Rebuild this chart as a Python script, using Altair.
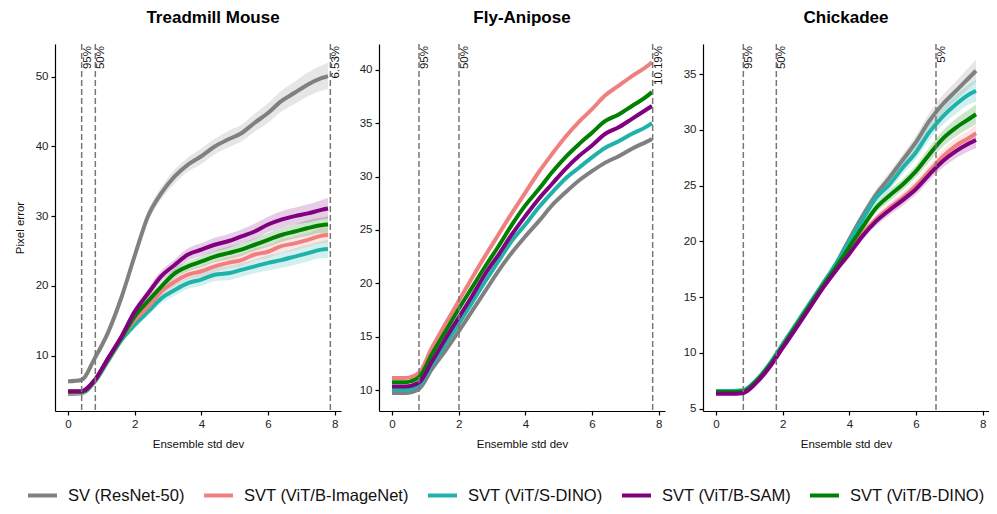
import altair as alt
import pandas as pd

# ---------------- data ----------------
X = [0.0, 0.4, 0.8, 1.2, 1.6, 2.0, 2.4, 2.8, 3.2, 3.6, 4.0, 4.4, 4.8, 5.2, 5.6, 6.0, 6.4, 6.8, 7.2, 7.6, 7.8]

SERIES = ["SV (ResNet-50)", "SVT (ViT/B-ImageNet)", "SVT (ViT/S-DINO)", "SVT (ViT/B-SAM)", "SVT (ViT/B-DINO)"]
COLORS = ["#808080", "#f08080", "#20b2aa", "#800080", "#008000"]
DRAW_ORDER = ["SV (ResNet-50)", "SVT (ViT/S-DINO)", "SVT (ViT/B-ImageNet)", "SVT (ViT/B-DINO)", "SVT (ViT/B-SAM)"]

PANELS = ["Treadmill Mouse", "Fly-Anipose", "Chickadee"]

# Treadmill Mouse
MOUSE_SV = [6.3, 6.5, 9.6, 13.3, 18.3, 24.3, 30.0, 33.3, 35.7, 37.4, 38.6, 40.0, 41.0, 41.9, 43.4, 44.8, 46.5, 47.7, 48.9, 49.8, 50.1]
MOUSE_IMG = [4.6, 4.7, 6.3, 9.4, 12.5, 15.1, 17.0, 19.2, 20.6, 21.6, 22.1, 22.8, 23.3, 23.7, 24.5, 24.9, 25.7, 26.1, 26.6, 27.2, 27.3]
MOUSE_SDINO = [4.5, 4.6, 6.2, 9.2, 12.2, 14.4, 16.3, 18.2, 19.4, 20.4, 20.9, 21.6, 21.8, 22.3, 22.8, 23.3, 23.7, 24.2, 24.7, 25.2, 25.3]
MOUSE_SAM = [4.9, 4.9, 6.5, 9.6, 12.7, 16.3, 18.9, 21.4, 23.0, 24.5, 25.2, 25.9, 26.4, 27.1, 27.8, 28.8, 29.5, 30.0, 30.4, 30.9, 31.1]
MOUSE_BDINO = [4.8, 4.8, 6.4, 9.5, 12.5, 15.6, 17.8, 19.9, 21.8, 22.8, 23.5, 24.2, 24.7, 25.2, 25.9, 26.6, 27.3, 27.8, 28.3, 28.7, 28.8]
MOUSE_SV_ERR = [0.3, 0.3, 0.4, 0.5, 0.6, 0.7, 0.8, 0.9, 1.0, 1.0, 1.1, 1.1, 1.2, 1.2, 1.3, 1.4, 1.5, 1.6, 1.7, 1.8, 1.9]
MOUSE_IMG_ERR = [0.2, 0.2, 0.3, 0.3, 0.4, 0.5, 0.6, 0.6, 0.7, 0.7, 0.8, 0.8, 0.8, 0.9, 0.9, 0.9, 1.0, 1.0, 1.0, 1.1, 1.1]
MOUSE_SDINO_ERR = [0.2, 0.2, 0.3, 0.3, 0.4, 0.5, 0.6, 0.7, 0.8, 0.8, 0.9, 0.9, 1.0, 1.0, 1.0, 1.1, 1.1, 1.2, 1.2, 1.2, 1.3]
MOUSE_SAM_ERR = [0.2, 0.2, 0.3, 0.4, 0.5, 0.6, 0.7, 0.8, 0.8, 0.9, 0.9, 1.0, 1.0, 1.0, 1.1, 1.1, 1.2, 1.2, 1.3, 1.4, 1.5]
MOUSE_BDINO_ERR = [0.2, 0.2, 0.3, 0.3, 0.4, 0.5, 0.6, 0.6, 0.7, 0.7, 0.8, 0.8, 0.9, 0.9, 0.9, 1.0, 1.0, 1.0, 1.1, 1.1, 1.2]

# Fly-Anipose
FLY_SV = [9.75, 9.75, 10.1, 12.0, 13.7, 15.5, 17.4, 19.3, 21.2, 22.9, 24.4, 25.8, 27.3, 28.5, 29.6, 30.5, 31.3, 31.9, 32.6, 33.2, 33.5]
FLY_IMG = [11.15, 11.15, 11.6, 14.0, 16.2, 18.35, 20.5, 22.6, 24.6, 26.6, 28.5, 30.4, 32.1, 33.7, 35.1, 36.3, 37.6, 38.5, 39.4, 40.2, 40.7]
FLY_SDINO = [10.05, 10.05, 10.4, 12.4, 14.3, 16.2, 18.2, 20.2, 22.1, 24.0, 25.5, 27.1, 28.5, 29.8, 30.8, 31.8, 32.7, 33.3, 34.0, 34.6, 35.0]
FLY_SAM = [10.35, 10.35, 10.7, 12.7, 14.8, 16.8, 18.8, 20.9, 22.7, 24.6, 26.3, 27.9, 29.3, 30.7, 31.9, 32.9, 34.0, 34.6, 35.4, 36.2, 36.6]
FLY_BDINO = [10.75, 10.75, 11.2, 13.4, 15.5, 17.6, 19.6, 21.6, 23.5, 25.5, 27.3, 28.8, 30.4, 31.8, 33.0, 34.1, 35.2, 35.8, 36.6, 37.4, 37.9]
FLY_SV_ERR = [0.1, 0.1, 0.1, 0.1, 0.1, 0.1, 0.1, 0.1, 0.1, 0.1, 0.1, 0.1, 0.1, 0.1, 0.15, 0.15, 0.15, 0.15, 0.15, 0.15, 0.15]
FLY_IMG_ERR = [0.1, 0.1, 0.1, 0.1, 0.1, 0.1, 0.1, 0.1, 0.1, 0.1, 0.1, 0.1, 0.1, 0.1, 0.15, 0.15, 0.15, 0.15, 0.15, 0.15, 0.15]
FLY_SDINO_ERR = [0.1, 0.1, 0.1, 0.1, 0.1, 0.1, 0.1, 0.1, 0.1, 0.1, 0.1, 0.1, 0.1, 0.1, 0.15, 0.15, 0.15, 0.15, 0.15, 0.15, 0.15]
FLY_SAM_ERR = [0.1, 0.1, 0.1, 0.1, 0.1, 0.1, 0.1, 0.1, 0.1, 0.1, 0.1, 0.1, 0.1, 0.1, 0.15, 0.15, 0.15, 0.15, 0.15, 0.15, 0.15]
FLY_BDINO_ERR = [0.1, 0.1, 0.1, 0.1, 0.1, 0.1, 0.1, 0.1, 0.1, 0.1, 0.1, 0.1, 0.1, 0.1, 0.15, 0.15, 0.15, 0.15, 0.15, 0.15, 0.15]

# Chickadee
CHICK_SV = [6.55, 6.55, 6.6, 7.5, 8.9, 10.7, 12.5, 14.3, 16.1, 18.0, 20.2, 22.3, 24.2, 25.7, 27.3, 28.9, 30.8, 32.3, 33.5, 34.7, 35.3]
CHICK_IMG = [6.45, 6.45, 6.5, 7.4, 8.8, 10.55, 12.3, 14.1, 15.9, 17.5, 19.1, 20.7, 22.0, 23.0, 23.9, 25.0, 26.3, 27.6, 28.6, 29.3, 29.7]
CHICK_SDINO = [6.6, 6.6, 6.65, 7.55, 9.0, 10.8, 12.6, 14.4, 16.2, 18.0, 20.0, 22.0, 23.9, 25.1, 26.6, 28.0, 29.8, 31.2, 32.3, 33.2, 33.5]
CHICK_SAM = [6.35, 6.35, 6.4, 7.3, 8.7, 10.45, 12.2, 14.0, 15.8, 17.4, 18.9, 20.5, 21.8, 22.8, 23.7, 24.7, 26.0, 27.2, 28.1, 28.8, 29.1]
CHICK_BDINO = [6.5, 6.5, 6.55, 7.45, 8.85, 10.6, 12.4, 14.2, 16.0, 17.7, 19.5, 21.3, 23.0, 24.1, 25.1, 26.3, 27.8, 29.2, 30.2, 31.0, 31.4]
CHICK_SV_ERR = [0.1, 0.1, 0.1, 0.1, 0.15, 0.2, 0.2, 0.25, 0.3, 0.3, 0.35, 0.4, 0.45, 0.5, 0.55, 0.6, 0.7, 0.8, 0.85, 0.95, 1.0]
CHICK_IMG_ERR = [0.1, 0.1, 0.1, 0.1, 0.15, 0.2, 0.2, 0.25, 0.3, 0.3, 0.35, 0.35, 0.4, 0.45, 0.5, 0.5, 0.55, 0.6, 0.65, 0.7, 0.75]
CHICK_SDINO_ERR = [0.1, 0.1, 0.1, 0.1, 0.15, 0.2, 0.2, 0.25, 0.3, 0.3, 0.35, 0.4, 0.45, 0.5, 0.55, 0.6, 0.7, 0.75, 0.85, 0.9, 1.0]
CHICK_SAM_ERR = [0.1, 0.1, 0.1, 0.1, 0.15, 0.2, 0.2, 0.25, 0.3, 0.3, 0.35, 0.35, 0.4, 0.45, 0.5, 0.5, 0.55, 0.6, 0.65, 0.7, 0.75]
CHICK_BDINO_ERR = [0.1, 0.1, 0.1, 0.1, 0.15, 0.2, 0.2, 0.25, 0.3, 0.3, 0.35, 0.4, 0.45, 0.5, 0.5, 0.55, 0.65, 0.7, 0.8, 0.85, 0.9]

# vertical threshold lines
MOUSE_VX = [0.41, 0.82, 7.87]
FLY_VX = [0.81, 2.01, 7.82]
CHICK_VX = [0.82, 1.81, 6.6]
MOUSE_VLABELS = ["95%", "50%", "6.53%"]
FLY_VLABELS = ["95%", "50%", "10.19%"]
CHICK_VLABELS = ["95%", "50%", "5%"]

# axes
Y_DOMAINS = [[2.05, 54.7], [8.06, 42.4], [4.8, 37.7]]
Y_TICKS = [[10, 20, 30, 40, 50], [10, 15, 20, 25, 30, 35, 40], [5, 10, 15, 20, 25, 30, 35]]
X_TICKS = [0, 2, 4, 6, 8]
X_DOMAIN = [-0.39, 8.19]

# ---------------- build tables ----------------
panel_series = {
    "Treadmill Mouse": [(MOUSE_SV, MOUSE_SV_ERR), (MOUSE_IMG, MOUSE_IMG_ERR), (MOUSE_SDINO, MOUSE_SDINO_ERR),
                        (MOUSE_SAM, MOUSE_SAM_ERR), (MOUSE_BDINO, MOUSE_BDINO_ERR)],
    "Fly-Anipose": [(FLY_SV, FLY_SV_ERR), (FLY_IMG, FLY_IMG_ERR), (FLY_SDINO, FLY_SDINO_ERR),
                    (FLY_SAM, FLY_SAM_ERR), (FLY_BDINO, FLY_BDINO_ERR)],
    "Chickadee": [(CHICK_SV, CHICK_SV_ERR), (CHICK_IMG, CHICK_IMG_ERR), (CHICK_SDINO, CHICK_SDINO_ERR),
                  (CHICK_SAM, CHICK_SAM_ERR), (CHICK_BDINO, CHICK_BDINO_ERR)],
}
vlines = {
    "Treadmill Mouse": (MOUSE_VX, MOUSE_VLABELS),
    "Fly-Anipose": (FLY_VX, FLY_VLABELS),
    "Chickadee": (CHICK_VX, CHICK_VLABELS),
}
TITLE_DX = [15, 0, 0]

FONT = "Liberation Sans"
color_scale = alt.Scale(domain=SERIES, range=COLORS)
legend = alt.Legend(orient="none", direction="horizontal", title=None,
                    legendX=-29, legendY=435,
                    symbolType="stroke", symbolSize=841, symbolStrokeWidth=4,
                    labelFontSize=16.5, labelFont=FONT, labelColor="#111",
                    labelOffset=9, columnPadding=11, labelLimit=300)


def make_panel(idx, name):
    rows = []
    for sname in DRAW_ORDER:
        k = SERIES.index(sname)
        vals, errs = panel_series[name][k]
        for xv, yv, ev in zip(X, vals, errs):
            rows.append({"x": xv, "y": yv, "lo": yv - ev, "hi": yv + ev,
                         "series": sname, "band": COLORS[k], "ord": DRAW_ORDER.index(sname)})
    df = pd.DataFrame(rows)
    vx, vl = vlines[name]
    vdf = pd.DataFrame({"x": vx, "label": vl})

    xenc = alt.X("x:Q", scale=alt.Scale(domain=X_DOMAIN, nice=False, zero=False),
                 axis=alt.Axis(values=X_TICKS, title="Ensemble std dev", format="d"))
    if idx == 0:
        yaxis = alt.Axis(values=Y_TICKS[idx], title="Pixel error")
    else:
        yaxis = alt.Axis(values=Y_TICKS[idx], title=None)
    yenc = alt.Y("y:Q", scale=alt.Scale(domain=Y_DOMAINS[idx], nice=False, zero=False), axis=yaxis)

    base = alt.Chart(df)
    bands = base.mark_area(opacity=0.2, interpolate="monotone").encode(
        x=xenc, y=alt.Y("lo:Q"), y2="hi:Q",
        fill=alt.Fill("band:N", scale=None),
        detail="series:N",
        order=alt.Order("ord:Q"),
    )
    lines = base.mark_line(strokeWidth=4, interpolate="monotone").encode(
        x=xenc, y=yenc,
        color=alt.Color("series:N", scale=color_scale, legend=legend),
        order=alt.Order("ord:Q"),
    )
    rules = alt.Chart(vdf).mark_rule(strokeDash=[6, 3], strokeWidth=1.5, color="#777777").encode(x="x:Q")
    texts = alt.Chart(vdf).mark_text(angle=270, align="right", baseline="top", fontSize=11.5,
                                     font=FONT, color="#111").encode(
        x="x:Q", y=alt.value(2), text="label:N")

    return alt.layer(bands, lines, rules, texts).properties(
        width=286, height=367,
        title=alt.TitleParams(name, fontSize=17, fontWeight="bold", font=FONT, color="#000",
                              anchor="middle", offset=16, dx=TITLE_DX[idx]),
    )


panels = [make_panel(i, n) for i, n in enumerate(PANELS)]

chart = alt.hconcat(*panels, spacing=38, bounds="flush").properties(
    padding={"left": 6, "top": 1, "right": 0, "bottom": 62}
).configure_view(strokeWidth=0).configure_axis(
    grid=False, domainColor="#000", domainWidth=1.2, tickColor="#000", tickWidth=1.2, tickSize=4,
    labelFont=FONT, labelFontSize=11.5, labelColor="#222", labelPadding=3,
    titleFont=FONT, titleFontSize=11.5, titleFontWeight="normal", titleColor="#111",
).configure_axisX(titlePadding=9).configure_axisY(titlePadding=10)

chart.save("out.html", embed_options={"renderer": "svg", "actions": False})
